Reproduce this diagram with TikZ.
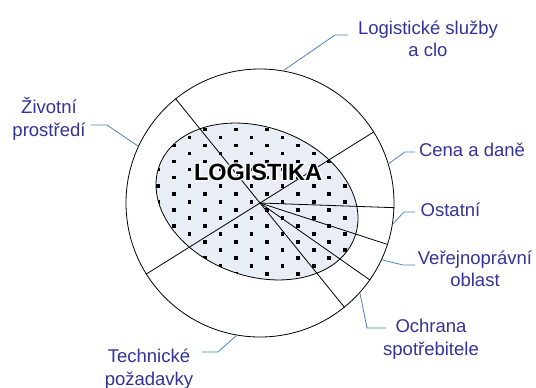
\documentclass[tikz,border=0pt]{standalone}
\usepackage{fontspec}
\setmainfont{Liberation Sans}
\definecolor{lbltext}{RGB}{51,51,153}
\definecolor{connblue}{RGB}{79,129,189}
\definecolor{corefill}{RGB}{233,238,246}
% white outline around a text: stroke-only rendering with a wide white pen
\newcommand{\haloText}[1]{\special{pdf:literal direct 1 Tr 1 1 1 RG 2.6 w 1 j}#1\special{pdf:literal direct 0 Tr}}
\begin{document}
\begin{tikzpicture}[x=1pt,y=-1pt,
  lbl/.style={text=lbltext,align=center,inner sep=0pt,font=\fontsize{18.5}{22.5}\selectfont},
  conn/.style={draw=connblue,line width=0.8pt},
  ray/.style={draw=black,line width=0.8pt},
  titlefont/.style={inner sep=0pt,font=\bfseries\fontsize{23.5}{26}\selectfont},
  dotsq/.style={fill=black}]
  % canvas
  \fill[white] (0,0) rectangle (536,388);
  \useasboundingbox (0,0) rectangle (536,388);

  % inner tilted ellipse with dotted fill
  \fill[corefill,shift={(257,201.5)},rotate=-20] (0,0) ellipse [x radius=104,y radius=74.4];
  \begin{scope}
    \clip[shift={(257,201.5)},rotate=-20] (0,0) ellipse [x radius=104,y radius=74.4];
    \foreach \r in {-10,...,12}{
      \foreach \k in {-3,...,7}{
        \pgfmathsetmacro{\dx}{189.3+15.55*mod(\r+20,2)+31.1*\k}
        \pgfmathsetmacro{\dy}{185.7+8.05*\r}
        \fill[dotsq] (\dx-1.8,\dy-1.8) rectangle (\dx+1.8,\dy+1.8);
      }
    }
  \end{scope}
  \draw[line width=0.8pt,shift={(257,201.5)},rotate=-20] (0,0) ellipse [x radius=104,y radius=74.4];

  % outer ring
  \node[circle,draw,line width=0.8pt,minimum size=268pt,inner sep=0pt] (ring) at (260,203) {};

  % sector lines
  \draw[ray] (ring.129) -- (ring.-51);
  \draw[ray] (ring.32) -- (ring.212);
  \draw[ray] (ring.center) -- (ring.-2);
  \draw[ray] (ring.center) -- (ring.-18);
  \draw[ray] (ring.center) -- (ring.-35);

  % centre title with a white outline
  \node[titlefont,text=white] (halo) at (258,172) {\haloText{LOGISTIKA}};
  \node[titlefont,text=black] (title) at (258,172) {LOGISTIKA};

  % labels
  \node[lbl] (lsluzby) at (428,39) {Logistické služby\\a clo};
  \node[lbl] (cena) at (472,149.5) {Cena a daně};
  \node[lbl] (ostatni) at (450.5,209.5) {Ostatní};
  \node[lbl] (verej) at (475,269) {Veřejnoprávní\\oblast};
  \node[lbl] (ochrana) at (431,339) {Ochrana\\spotřebitele};
  \node[lbl] (zivot) at (49,119) {Životní\\prostředí};
  \node[lbl] (tech) at (149,369) {Technické\\požadavky};

  % leader lines
  \coordinate (lsA) at (335,35);  \coordinate (lsB) at (348,35);
  \coordinate (ceA) at (405,152); \coordinate (ceB) at (415,152);
  \coordinate (osA) at (404,212); \coordinate (osB) at (415,212);
  \coordinate (veA) at (403,265); \coordinate (veB) at (415,265);
  \coordinate (ocA) at (367,328); \coordinate (ocB) at (386,328);
  \coordinate (teA) at (218,352); \coordinate (teB) at (202,352);
  \coordinate (zpA) at (107,125); \coordinate (zpB) at (91,125);

  \draw[conn] (ring.80) -- (lsA) -- (lsB);
  \draw[conn] (ring.17.6) -- (ceA) -- (ceB);
  \draw[conn] (ring.-9.8) -- (osA) -- (osB);
  \draw[conn] (ring.-25.2) -- (veA) -- (veB);
  \draw[conn] (ring.-42.6) -- (ocA) -- (ocB);
  \draw[conn] (ring.260) -- (teA) -- (teB);
  \draw[conn] (ring.155.7) -- (zpA) -- (zpB);
\end{tikzpicture}
\end{document}
